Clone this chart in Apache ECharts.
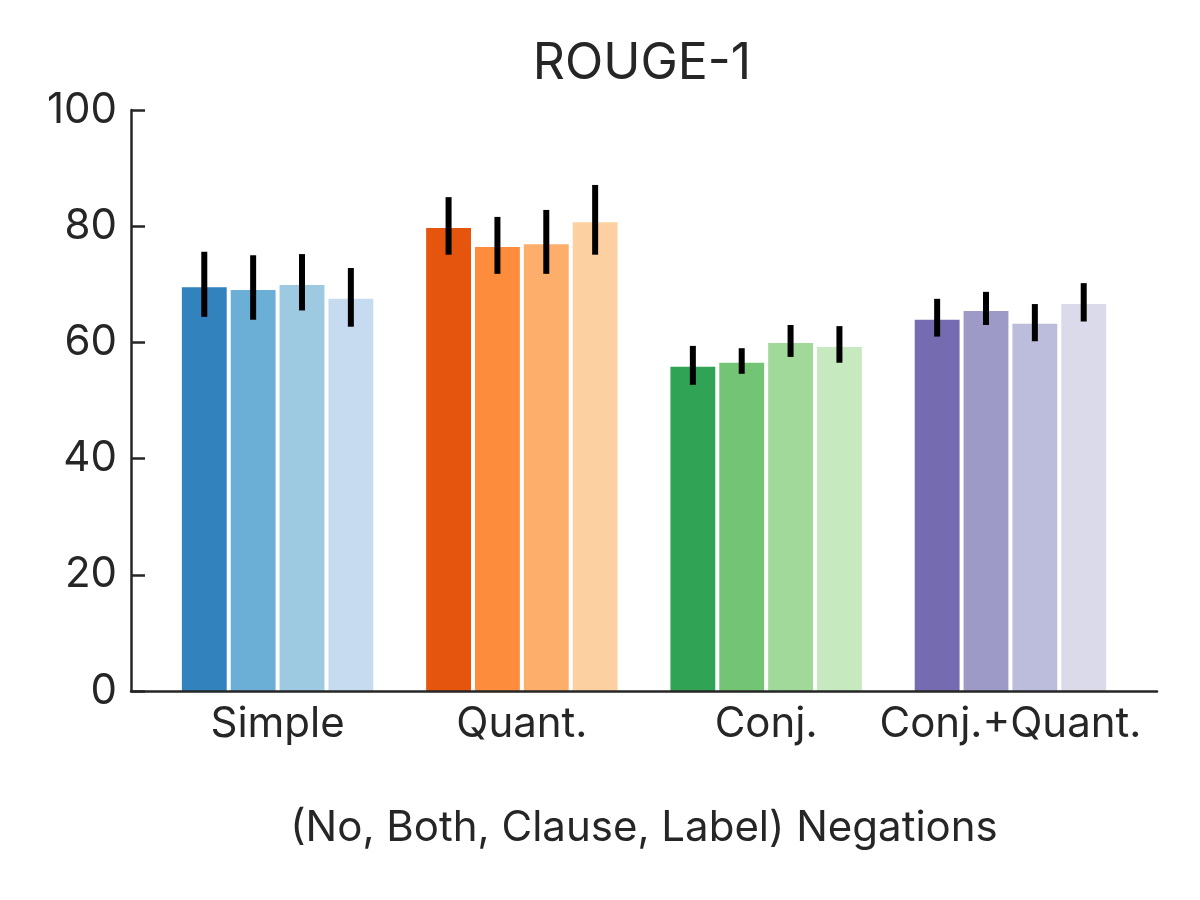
<!DOCTYPE html>
<html>
<head>
<meta charset="utf-8">
<script src="https://cdn.jsdelivr.net/npm/echarts@6/dist/echarts.min.js"></script>
<style>
  html, body { margin: 0; padding: 0; background: #fff; }
  #chart { width: 1200px; height: 900px; }
</style>
</head>
<body>
<div id="chart"></div>
<script>
// ---- data ----
const categories = ['Simple', 'Quant.', 'Conj.', 'Conj.+Quant.'];
const variants = ['No', 'Both', 'Clause', 'Label'];
const yTicks = [0, 20, 40, 60, 80, 100];

const noNeg      = [69.5, 79.7, 55.8, 63.9];
const bothNeg    = [69.0, 76.4, 56.5, 65.4];
const clauseNeg  = [69.9, 76.9, 59.9, 63.2];
const labelNeg   = [67.5, 80.7, 59.2, 66.6];

const noLow      = [64.4, 75.1, 52.7, 61.0];
const noHigh     = [75.6, 85.0, 59.4, 67.5];
const bothLow    = [63.9, 71.8, 54.6, 63.0];
const bothHigh   = [75.0, 81.6, 59.0, 68.7];
const clauseLow  = [65.5, 71.8, 57.5, 60.2];
const clauseHigh = [75.2, 82.8, 63.0, 66.6];
const labelLow   = [62.7, 75.1, 56.5, 63.6];
const labelHigh  = [72.8, 87.1, 62.8, 70.2];

const palette = [
  ['#3182bd', '#6baed6', '#9ecae1', '#c6dbef'],
  ['#e6550d', '#fd8d3c', '#fdae6b', '#fdd0a2'],
  ['#31a354', '#74c476', '#a1d99b', '#c7e9c0'],
  ['#756bb1', '#9e9ac8', '#bcbddc', '#dadaeb']
];

// ---- build ----
const values = [noNeg, bothNeg, clauseNeg, labelNeg];
const lows = [noLow, bothLow, clauseLow, labelLow];
const highs = [noHigh, bothHigh, clauseHigh, labelHigh];
const barStep = 0.2;
const offsets = [-0.3, -0.1, 0.1, 0.3];
const FONT = 'Inter';
const TXT = '#262626';

const series = [];
values.forEach((arr, vi) => {
  series.push({
    type: 'custom',
    name: variants[vi],
    z: 2,
    data: arr.map((v, gi) => [gi, v]),
    renderItem: function (params, api) {
      const gi = api.value(0);
      const v = api.value(1);
      const x = gi + offsets[vi];
      const top = api.coord([x, v]);
      const base = api.coord([x, 0]);
      const w = api.size([barStep, 0])[0] - 4;
      return {
        type: 'rect',
        shape: { x: top[0] - w / 2, y: top[1], width: w, height: base[1] - top[1] },
        style: { fill: palette[gi][vi] }
      };
    }
  });
});
values.forEach((arr, vi) => {
  series.push({
    type: 'custom',
    name: variants[vi] + ' err',
    z: 5,
    data: arr.map((v, gi) => [gi, lows[vi][gi], highs[vi][gi]]),
    renderItem: function (params, api) {
      const gi = api.value(0);
      const x = gi + offsets[vi];
      const lo = api.coord([x, api.value(1)]);
      const hi = api.coord([x, api.value(2)]);
      return {
        type: 'line',
        shape: { x1: lo[0], y1: lo[1], x2: hi[0], y2: hi[1] },
        style: { stroke: '#000', lineWidth: 6, lineCap: 'butt' }
      };
    }
  });
});

const chart = echarts.init(document.getElementById('chart'), null, { renderer: 'canvas' });
chart.setOption({
  animation: false,
  backgroundColor: '#ffffff',
  textStyle: { fontFamily: FONT, color: TXT },
  title: {
    text: 'ROUGE-1',
    left: 637,
    textAlign: 'center',
    top: 34,
    textStyle: { fontFamily: FONT, fontSize: 50, fontWeight: 'normal', color: TXT }
  },
  grid: { left: 131, right: 43, top: 110, bottom: 209, containLabel: false },
  xAxis: {
    type: 'value',
    min: -0.6,
    max: 3.6,
    z: 10,
    name: '(No, Both, Clause, Label) Negations',
    nameLocation: 'middle',
    nameGap: 116,
    nameTextStyle: { fontFamily: FONT, fontSize: 42, color: TXT },
    axisLine: { show: true, onZero: false, lineStyle: { color: TXT, width: 2.5 } },
    axisTick: { show: false },
    splitLine: { show: false },
    axisLabel: {
      customValues: [0, 1, 2, 3],
      formatter: v => categories[Math.round(v)],
      fontFamily: FONT,
      fontSize: 42,
      color: TXT,
      margin: 12
    }
  },
  yAxis: {
    type: 'value',
    min: 0,
    max: 100,
    interval: 20,
    z: 10,
    axisLine: { show: true, onZero: false, lineStyle: { color: TXT, width: 2.5 } },
    axisTick: { show: true, inside: true, length: 14, lineStyle: { color: TXT, width: 2.5 } },
    splitLine: { show: false },
    axisLabel: {
      customValues: yTicks,
      fontFamily: FONT,
      fontSize: 42,
      color: TXT,
      margin: 14
    }
  },
  series: series
});
</script>
</body>
</html>
